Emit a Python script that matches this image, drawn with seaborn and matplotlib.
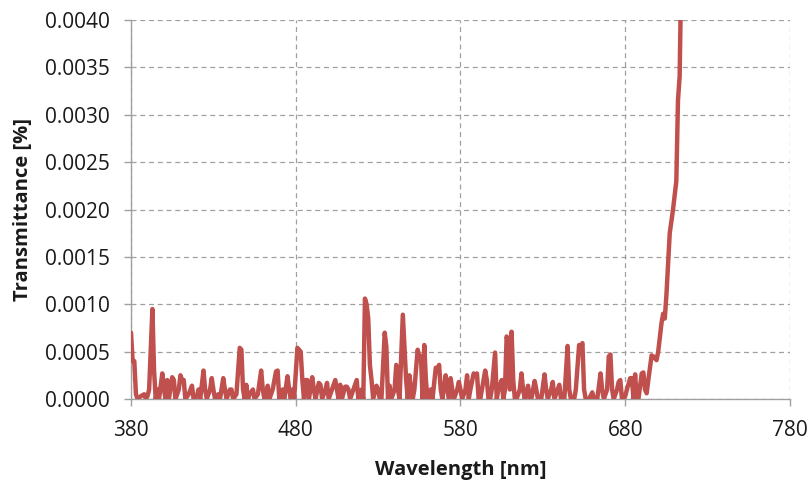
import numpy as np
import pandas as pd
import matplotlib
matplotlib.use("Agg")
import matplotlib.pyplot as plt
import seaborn as sns
from matplotlib.ticker import FormatStrFormatter

wavelength = [
    380, 381, 382, 383, 384, 386, 388, 389, 390, 391, 393, 394, 395, 396, 397, 399, 400, 401, 402, 403,
    405, 406, 407, 409, 410, 411, 412, 413, 415, 417, 418, 420, 421, 422, 424, 425, 426, 428, 429, 430,
    431, 433, 434, 436, 437, 438, 440, 441, 442, 444, 446, 447, 448, 449, 450, 451, 452, 454, 455, 457,
    459, 460, 461, 462, 463, 464, 466, 468, 469, 470, 472, 473, 475, 476, 477, 478, 479, 481, 482, 483,
    484, 485, 486, 487, 488, 490, 491, 492, 494, 495, 496, 498, 499, 500, 502, 504, 505, 506, 507, 508,
    510, 511, 512, 513, 515, 517, 518, 520, 521, 522, 523, 524, 525, 526, 527, 529, 530, 531, 532, 534,
    535, 536, 537, 538, 540, 541, 542, 543, 545, 546, 547, 548, 549, 550, 551, 552, 554, 555, 556, 557,
    558, 559, 560, 562, 563, 565, 566, 567, 568, 569, 571, 572, 573, 574, 575, 576, 578, 579, 580, 581,
    583, 584, 585, 586, 588, 589, 590, 591, 592, 593, 595, 596, 597, 598, 599, 601, 602, 603, 605, 606,
    607, 608, 609, 610, 611, 612, 613, 614, 616, 617, 618, 619, 621, 622, 623, 625, 626, 627, 629, 631,
    632, 633, 635, 636, 637, 639, 640, 641, 643, 645, 646, 647, 649, 650, 652, 653, 654, 655, 656, 658,
    660, 661, 663, 665, 666, 667, 669, 670, 671, 672, 673, 675, 676, 677, 678, 679, 680, 681, 683, 684,
    685, 686, 687, 688, 690, 691, 692, 693, 694, 696, 697, 699, 700, 702, 703, 704, 705, 707, 709, 711,
    712, 713, 714,
]
transmittance = [
    0.00070, 0.00040, 0.00040, 0.00005, 0.0, 0.00003, 0.00005, 0.0, 0.00003, 0.00010, 0.00095, 0.00030, 0.0, 0.00010, 0.0, 0.00027, 0.00010, 0.0, 0.00020, 0.0,
    0.00023, 0.00020, 0.0, 0.00010, 0.00025, 0.00020, 0.00020, 0.0, 0.00005, 0.00014, 0.0, 0.00003, 0.00010, 0.0, 0.00030, 0.00010, 0.0, 0.00010, 0.00022, 0.00010,
    0.0, 0.00005, 0.0, 0.00022, 0.00010, 0.0, 0.00010, 0.00010, 0.0, 0.00005, 0.00054, 0.00052, 0.00010, 0.0, 0.00015, 0.0, 0.00005, 0.00010, 0.0, 0.00005,
    0.00030, 0.00010, 0.0, 0.00005, 0.00014, 0.0, 0.00010, 0.00029, 0.00030, 0.0, 0.00010, 0.0, 0.00024, 0.00010, 0.0, 0.00010, 0.0, 0.00054, 0.00052, 0.00050,
    0.00020, 0.0, 0.00020, 0.00020, 0.0, 0.00023, 0.00010, 0.0, 0.00017, 0.00015, 0.0, 0.00010, 0.00017, 0.0, 0.00010, 0.00020, 0.00010, 0.0, 0.00015, 0.0,
    0.00013, 0.00013, 0.00010, 0.0, 0.00010, 0.00020, 0.0, 0.00010, 0.0, 0.00106, 0.00100, 0.00085, 0.00036, 0.00020, 0.0, 0.00014, 0.00010, 0.0, 0.0, 0.00070,
    0.00055, 0.0, 0.00014, 0.0, 0.00010, 0.00036, 0.00010, 0.0, 0.00089, 0.00055, 0.00020, 0.0, 0.00025, 0.00010, 0.0, 0.00010, 0.00052, 0.00045, 0.00045, 0.0,
    0.00057, 0.00020, 0.0, 0.00010, 0.0, 0.00033, 0.00030, 0.00036, 0.00010, 0.0, 0.00025, 0.00010, 0.0, 0.00022, 0.00010, 0.0, 0.00010, 0.00018, 0.00010, 0.0,
    0.00010, 0.00025, 0.0, 0.00010, 0.00027, 0.00025, 0.00027, 0.0, 0.0, 0.00010, 0.00030, 0.00020, 0.0, 0.0, 0.00010, 0.00049, 0.0, 0.00010, 0.00020, 0.0,
    0.00010, 0.00066, 0.00060, 0.00010, 0.00071, 0.00020, 0.0, 0.0, 0.00010, 0.00027, 0.00010, 0.0, 0.00014, 0.0, 0.0, 0.00019, 0.00010, 0.0, 0.0, 0.00026,
    0.00010, 0.0, 0.00010, 0.00018, 0.0, 0.00010, 0.00015, 0.0, 0.0, 0.00056, 0.00010, 0.0, 0.0, 0.00010, 0.00057, 0.00055, 0.00059, 0.00010, 0.0, 0.0,
    0.00007, 0.0, 0.0, 0.00027, 0.00010, 0.0, 0.00010, 0.00045, 0.00047, 0.00010, 0.0, 0.00010, 0.00018, 0.00020, 0.0, 0.0, 0.00003, 0.00010, 0.00022, 0.00022,
    0.0, 0.00026, 0.0, 0.0, 0.00027, 0.00028, 0.00010, 0.00006, 0.00020, 0.00046, 0.00045, 0.00041, 0.00050, 0.00080, 0.00090, 0.00085, 0.00110, 0.00175, 0.00200, 0.00230,
    0.00315, 0.00340, 0.00450,
]

x_ticks = [380, 480, 580, 680, 780]
y_ticks = [0.0, 0.0005, 0.001, 0.0015, 0.002, 0.0025, 0.003, 0.0035, 0.004]

df = pd.DataFrame({"Wavelength": wavelength, "Transmittance": transmittance})

sns.set_theme(style="white")
plt.rcParams["font.family"] = ["Open Sans", "DejaVu Sans"]

fig = plt.figure(figsize=(8.09, 4.82), dpi=100)
ax = fig.add_axes([131 / 809, 1 - 399 / 482, (790 - 131) / 809, (399 - 20) / 482])

sns.lineplot(data=df, x="Wavelength", y="Transmittance", ax=ax, color="#C0504D",
             linewidth=3.2, solid_joinstyle="round", zorder=3)

ax.set_xlim(380, 780)
ax.set_ylim(0, 0.004)
ax.set_xticks(x_ticks)
ax.set_yticks(y_ticks)
ax.yaxis.set_major_formatter(FormatStrFormatter("%.4f"))

ax.grid(True, which="major", axis="both", linestyle=(0, (4, 3)), color="#A0A0A0", linewidth=0.9)
ax.set_axisbelow(True)
for side in ["top", "right"]:
    ax.spines[side].set_visible(False)
for side in ["left", "bottom"]:
    ax.spines[side].set_color("#A0A0A0")
    ax.spines[side].set_linewidth(1.0)

ax.tick_params(axis="both", which="major", direction="out", length=5, width=1.0,
               color="#A0A0A0", labelsize=15, labelcolor="#1a1a1a",
               bottom=True, left=True)
ax.tick_params(axis="y", pad=10)
ax.tick_params(axis="x", pad=10)

ax.set_xlabel("Wavelength [nm]", fontsize=14.5, fontweight="bold", color="#1a1a1a", labelpad=14)
ax.set_ylabel("Transmittance [%]", fontsize=14.5, fontweight="bold", color="#1a1a1a", labelpad=9)

fig.savefig("out.png", dpi=100)
